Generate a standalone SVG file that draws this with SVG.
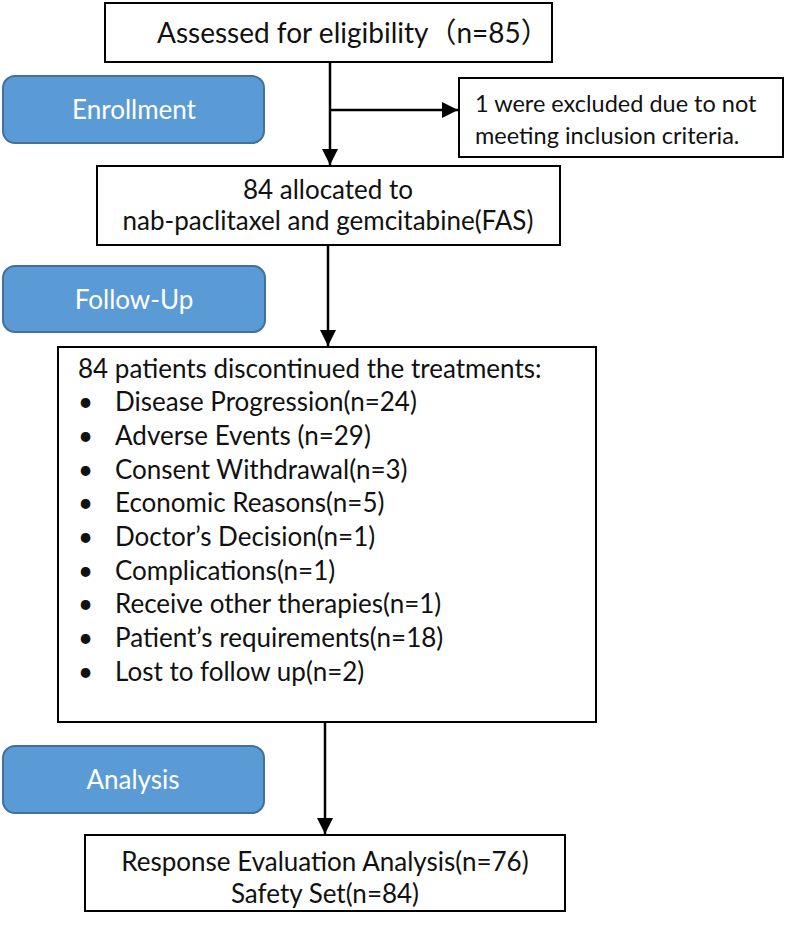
<svg xmlns="http://www.w3.org/2000/svg" width="787" height="928" viewBox="0 0 787 928">
<style>
.box{fill:#fff;stroke:#000;stroke-width:2}
.stage{fill:#5B9BD5;stroke:#41719C;stroke-width:2}
.t{font-family:Lato,"Liberation Sans","Noto Sans CJK SC",sans-serif;font-size:26px;fill:#111}
.c{text-anchor:middle}
.w{fill:#fff}
.ln{stroke:#000;stroke-width:2.5;fill:none}
</style>
<defs>
<marker id="ah" viewBox="0 0 10 10" refX="10" refY="5" markerWidth="6.4" markerHeight="6.4" markerUnits="strokeWidth" orient="auto">
<path d="M0,0 L10,5 L0,10 z" fill="#000"/>
</marker>
</defs>
<rect width="787" height="928" fill="#fff"/>
<g id="enrollment">
<rect class="stage" x="3" y="76" width="261" height="67" rx="12"/>
<text class="t c w" x="134" y="119">Enrollment</text>
</g>
<g id="followup">
<rect class="stage" x="3" y="266" width="262" height="66" rx="12"/>
<text class="t c w" x="134" y="309">Follow-Up</text>
</g>
<g id="analysis">
<rect class="stage" x="3" y="746" width="261" height="67" rx="12"/>
<text class="t c w" x="133" y="789">Analysis</text>
</g>
<g id="assessed">
<rect class="box" x="105" y="3" width="447" height="59"/>
<text class="t" x="157" y="43" style="font-size:28px">Assessed for eligibility（n=85）</text>
</g>
<g id="excluded">
<rect class="box" x="459" y="78" width="324" height="79"/>
<text class="t" x="475" y="112" style="font-size:23.5px">1 were excluded due to not</text>
<text class="t" x="475" y="144" style="font-size:23.5px">meeting inclusion criteria.</text>
</g>
<g id="allocated">
<rect class="box" x="97" y="166" width="463" height="79"/>
<text class="t c" x="328" y="199">84 allocated to</text>
<text class="t c" x="328" y="230">nab-paclitaxel and gemcitabine(FAS)</text>
</g>
<g id="discontinued">
<rect class="box" x="58" y="347" width="538" height="375"/>
<text class="t" x="78" y="378">84 patients discontinued the treatments:</text>
<g class="t">
<text x="78" y="411">•</text><text x="115" y="411">Disease Progression(n=24)</text>
<text x="78" y="445">•</text><text x="115" y="445">Adverse Events (n=29)</text>
<text x="78" y="479">•</text><text x="115" y="479">Consent Withdrawal(n=3)</text>
<text x="78" y="512">•</text><text x="115" y="512">Economic Reasons(n=5)</text>
<text x="78" y="546">•</text><text x="115" y="546">Doctor’s Decision(n=1)</text>
<text x="78" y="580">•</text><text x="115" y="580">Complications(n=1)</text>
<text x="78" y="613">•</text><text x="115" y="613">Receive other therapies(n=1)</text>
<text x="78" y="647">•</text><text x="115" y="647">Patient’s requirements(n=18)</text>
<text x="78" y="681">•</text><text x="115" y="681">Lost to follow up(n=2)</text>
</g>
</g>
<g id="results">
<rect class="box" x="85" y="835" width="480" height="76"/>
<text class="t c" x="325" y="871">Response Evaluation Analysis(n=76)</text>
<text class="t c" x="325" y="903">Safety Set(n=84)</text>
</g>
<g id="connectors">
<line class="ln" x1="330" y1="62" x2="330" y2="165" marker-end="url(#ah)"/>
<line class="ln" x1="330" y1="110" x2="458" y2="110" marker-end="url(#ah)"/>
<line class="ln" x1="328" y1="245" x2="328" y2="346" marker-end="url(#ah)"/>
<line class="ln" x1="325" y1="722" x2="325" y2="834" marker-end="url(#ah)"/>
</g>
</svg>
